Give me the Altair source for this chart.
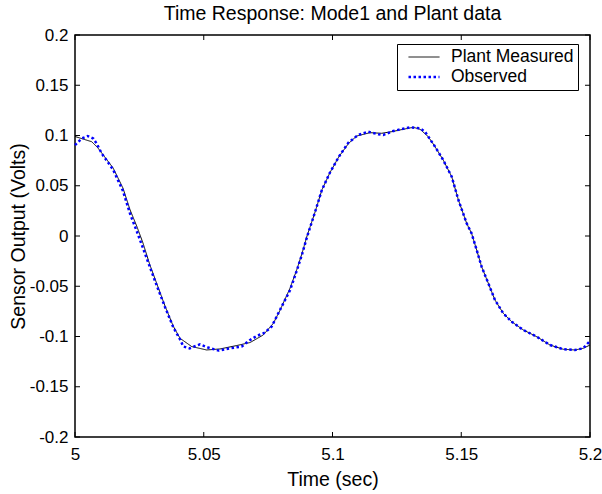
import altair as alt
import pandas as pd

# ---- data ----
t_plant = [5.000, 5.0065, 5.0089, 5.0148, 5.0186, 5.0214, 5.0241, 5.0264, 5.0291, 5.0317,
           5.035, 5.0382, 5.0408, 5.0453, 5.0511, 5.0563, 5.0628, 5.068, 5.0731, 5.077,
           5.0796, 5.0835, 5.0862, 5.0882, 5.0901, 5.093, 5.0959, 5.099, 5.1025, 5.1062,
           5.1094, 5.1146, 5.1191, 5.123, 5.1275, 5.1314, 5.134, 5.1372, 5.1398, 5.143,
           5.1463, 5.1489, 5.1521, 5.154, 5.156, 5.1579, 5.1605, 5.1631, 5.1663, 5.1696,
           5.1741, 5.1793, 5.1845, 5.1896, 5.1942, 5.1974, 5.2]
v_plant = [0.099, 0.0938, 0.0876, 0.0677, 0.0478, 0.0259, 0.009, -0.007, -0.0289, -0.047,
           -0.070, -0.090, -0.1018, -0.110, -0.1134, -0.1124, -0.109, -0.106, -0.0985, -0.087,
           -0.074, -0.052, -0.033, -0.017, 0.0, 0.022, 0.046, 0.063, 0.079, 0.092,
           0.0995, 0.1028, 0.1022, 0.1038, 0.1062, 0.1082, 0.1062, 0.0988, 0.0889, 0.0756,
           0.059, 0.0358, 0.0126, 0.0027, -0.014, -0.0305, -0.047, -0.0637, -0.0769, -0.0853,
           -0.0935, -0.1002, -0.1085, -0.1127, -0.1134, -0.1117, -0.1085]

t_obs = [5.000, 5.0026, 5.0049, 5.0071, 5.0084, 5.0104, 5.0148, 5.0186, 5.0214, 5.0241,
         5.0264, 5.0291, 5.0317, 5.035, 5.0382, 5.0408, 5.0421, 5.0445, 5.0485, 5.0517,
         5.0557, 5.0602, 5.0647, 5.068, 5.0706, 5.0738, 5.0764, 5.0796, 5.0835, 5.0862,
         5.0882, 5.0901, 5.093, 5.0959, 5.099, 5.1025, 5.1062, 5.110, 5.1139, 5.1178,
         5.1197, 5.1236, 5.1301, 5.134, 5.1359, 5.1398, 5.143, 5.1463, 5.1489, 5.1521,
         5.154, 5.156, 5.1579, 5.1605, 5.1631, 5.1663, 5.1696, 5.1741, 5.1793, 5.1845,
         5.1896, 5.1942, 5.1974, 5.2]
v_obs = [0.0905, 0.097, 0.0995, 0.097, 0.092, 0.082, 0.066, 0.045, 0.022, 0.004,
         -0.012, -0.031, -0.049, -0.071, -0.091, -0.103, -0.110, -0.1118, -0.1078, -0.111,
         -0.114, -0.1118, -0.110, -0.1035, -0.0995, -0.096, -0.090, -0.0736, -0.054, -0.034,
         -0.018, -0.001, 0.022, 0.046, 0.063, 0.079, 0.093, 0.1005, 0.1038, 0.1012,
         0.1005, 0.1045, 0.1082, 0.1072, 0.1038, 0.089, 0.0756, 0.059, 0.0358, 0.0126,
         0.0027, -0.014, -0.0305, -0.047, -0.0637, -0.0769, -0.0853, -0.0935, -0.1002, -0.1085,
         -0.1127, -0.1134, -0.1117, -0.1045]

series = ["Plant Measured", "Observed"]
x_ticks = [5.0, 5.05, 5.1, 5.15, 5.2]
y_ticks = [-0.2, -0.15, -0.1, -0.05, 0.0, 0.05, 0.1, 0.15, 0.2]

df = pd.concat([
    pd.DataFrame({"t": t_plant, "v": v_plant, "series": series[0]}),
    pd.DataFrame({"t": t_obs, "v": v_obs, "series": series[1]}),
], ignore_index=True)
xt_df = pd.DataFrame({"t": x_ticks})
yt_df = pd.DataFrame({"v": y_ticks})

W, H = 515, 402
TL = 5  # tick length (px)
FONT = "Liberation Sans"
LBL = 17
TTL = 19.5

xs = alt.Scale(domain=[5.0, 5.2], nice=False, zero=False)
ys = alt.Scale(domain=[-0.2, 0.2], nice=False, zero=False)

lbl = "replace(format(datum.value, '~g'), '\u2212', '-')"

common = dict(labelFont=FONT, labelFontSize=LBL, labelColor="black",
              titleFont=FONT, titleFontSize=TTL, titleFontWeight="normal", titleColor="black")

x_main = alt.Axis(values=x_ticks, labelExpr=lbl, tickSize=0, ticks=False, domain=False,
                  grid=False, labelPadding=9, titlePadding=8, title="Time (sec)",
                  labelFlush=False, **common)
y_main = alt.Axis(values=y_ticks, labelExpr=lbl, tickSize=0, ticks=False, domain=False,
                  grid=False, labelPadding=7, titlePadding=1, title="Sensor Output (Volts)",
                  **common)

color = alt.Color("series:N", scale=alt.Scale(domain=series, range=["black", "#0000ff"]),
                  legend=alt.Legend(title=None, orient="none", legendX=322, legendY=9,
                                    strokeColor="black", fillColor="white", padding=4,
                                    symbolType="stroke", symbolSize=961, clipHeight=18,
                                    symbolOffset=6, labelOffset=10, rowPadding=2,
                                    labelFontSize=17.5, labelFont=FONT, labelColor="black",
                                    cornerRadius=0, labelLimit=300))
dash = alt.StrokeDash("series:N", scale=alt.Scale(domain=series, range=[[1, 0], [2.5, 2.5]]),
                      legend=alt.Legend(title=None))
sw = alt.StrokeWidth("series:N", scale=alt.Scale(domain=series, range=[1, 2.5]),
                     legend=alt.Legend(title=None))

X = alt.X("t:Q", scale=xs, axis=x_main)
Y = alt.Y("v:Q", scale=ys, axis=y_main)

base = alt.Chart(df)

plant = base.transform_filter(alt.datum.series == series[0]).mark_line(strokeCap="butt").encode(
    x=X, y=Y, color=color, strokeDash=dash, strokeWidth=sw, order="t:Q",
)
obs = base.transform_filter(alt.datum.series == series[1]).mark_line(strokeCap="butt").encode(
    x=X, y=Y, color=color, strokeDash=dash, strokeWidth=sw, order="t:Q",
)

# inward-pointing tick marks on all four sides (MATLAB box style)
xt = alt.Chart(xt_df)
yt = alt.Chart(yt_df)
tick_style = dict(color="black", strokeWidth=1)
x_top = xt.mark_rule(**tick_style).encode(x=X, y=alt.value(0), y2=alt.value(TL))
x_bot = xt.mark_rule(**tick_style).encode(x=X, y=alt.value(H - TL), y2=alt.value(H))
y_left = yt.mark_rule(**tick_style).encode(y=Y, x=alt.value(0), x2=alt.value(TL))
y_right = yt.mark_rule(**tick_style).encode(y=Y, x=alt.value(W - TL), x2=alt.value(W))

chart = alt.layer(plant, obs, x_top, x_bot, y_left, y_right).properties(
    width=W, height=H,
    background="white",
    title=alt.TitleParams("Time Response: Mode1 and Plant data", fontSize=TTL,
                          font=FONT, fontWeight="normal", color="black", anchor="middle",
                          offset=2),
    autosize=alt.AutoSizeParams(type="none"),
    padding={"left": 75, "top": 35, "right": 12, "bottom": 57},
).configure_view(
    stroke="black", strokeWidth=1.5
)

chart.save("out.html", embed_options={"renderer": "svg", "actions": False})
